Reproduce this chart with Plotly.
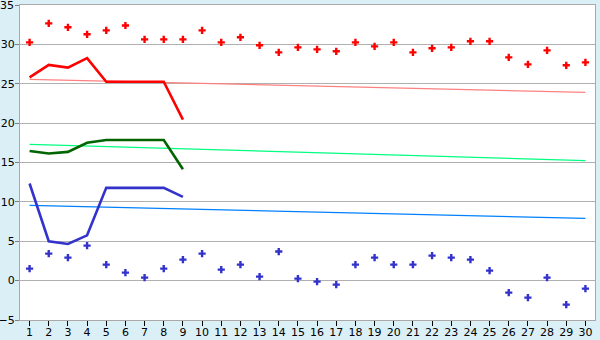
import plotly.graph_objects as go

days = list(range(1, 31))
red_points = [30.26, 32.67, 32.17, 31.28, 31.78, 32.4, 30.64, 30.64, 30.64, 31.78,
              30.26, 30.9, 29.88, 28.99, 29.62, 29.37, 29.12, 30.26, 29.75, 30.26,
              28.99, 29.5, 29.62, 30.39, 30.39, 28.35, 27.46, 29.24, 27.34, 27.72]
blue_points = [1.52, 3.43, 2.92, 4.45, 2.03, 1.02, 0.38, 1.52, 2.67, 3.43,
               1.40, 2.03, 0.51, 3.69, 0.25, -0.13, -0.51, 2.03, 2.92, 2.03,
               2.03, 3.18, 2.92, 2.67, 1.27, -1.53, -2.16, 0.38, -3.05, -1.02]
line_days = list(range(1, 10))
red_line = [25.8, 27.4, 27.05, 28.25, 25.25, 25.25, 25.25, 25.25, 20.45]
green_line = [16.45, 16.15, 16.35, 17.5, 17.85, 17.85, 17.85, 17.85, 14.15]
blue_line = [12.33, 5.0, 4.65, 5.75, 11.78, 11.78, 11.78, 11.78, 10.63]
trend_days = [1, 30]
red_trend = [25.55, 23.9]
green_trend = [17.3, 15.25]
blue_trend = [9.55, 7.9]
y_ticks = [-5, 0, 5, 10, 15, 20, 25, 30, 35]

fig = go.Figure()
fig.add_trace(go.Scatter(x=trend_days, y=red_trend, mode="lines",
                         line=dict(color="#FF8080", width=1.3)))
fig.add_trace(go.Scatter(x=trend_days, y=green_trend, mode="lines",
                         line=dict(color="#00FF80", width=1.3)))
fig.add_trace(go.Scatter(x=trend_days, y=blue_trend, mode="lines",
                         line=dict(color="#0080FF", width=1.3)))
fig.add_trace(go.Scatter(x=line_days, y=red_line, mode="lines",
                         line=dict(color="#FF0000", width=2.6)))
fig.add_trace(go.Scatter(x=line_days, y=green_line, mode="lines",
                         line=dict(color="#006400", width=2.6)))
fig.add_trace(go.Scatter(x=line_days, y=blue_line, mode="lines",
                         line=dict(color="#3333CC", width=2.6)))
fig.add_trace(go.Scatter(x=days, y=red_points, mode="markers",
                         marker=dict(symbol="cross", size=6, color="#FF0000")))
fig.add_trace(go.Scatter(x=days, y=blue_points, mode="markers",
                         marker=dict(symbol="cross", size=6, color="#3333CC")))

fig.update_layout(
    width=600, height=340,
    margin=dict(l=20, r=5, t=5, b=20),
    paper_bgcolor="#DBEFF6",
    plot_bgcolor="#FFFFFF",
    showlegend=False,
    font=dict(family="DejaVu Sans", size=11, color="#000000"),
)
fig.add_annotation(x=0, xref="paper", xanchor="right", xshift=-4,
                   y=y_ticks[-1], yref="y", yanchor="middle",
                   text=str(y_ticks[-1]), showarrow=False,
                   font=dict(family="DejaVu Sans", size=11, color="#000000"))
fig.update_xaxes(range=[0.5, 30.5], tickvals=days, ticktext=[str(d) for d in days],
                 showgrid=False, zeroline=False, showline=True, linecolor="#A9A9A9",
                 linewidth=1, mirror=True, ticks="outside", ticklen=5, tickcolor="#000000",
                 tickfont=dict(size=11), automargin=False, ticklabelstandoff=-3)
fig.update_yaxes(range=[-5, 35], tickvals=y_ticks, showgrid=True, gridcolor="#B0B0B0",
                 gridwidth=1, zeroline=False, showline=True, linecolor="#A9A9A9",
                 linewidth=1, mirror=True, ticks="outside", ticklen=4, tickcolor="#808080",
                 tickfont=dict(size=11), automargin=False, ticklabelstandoff=-2)

fig.write_html("out.html")
